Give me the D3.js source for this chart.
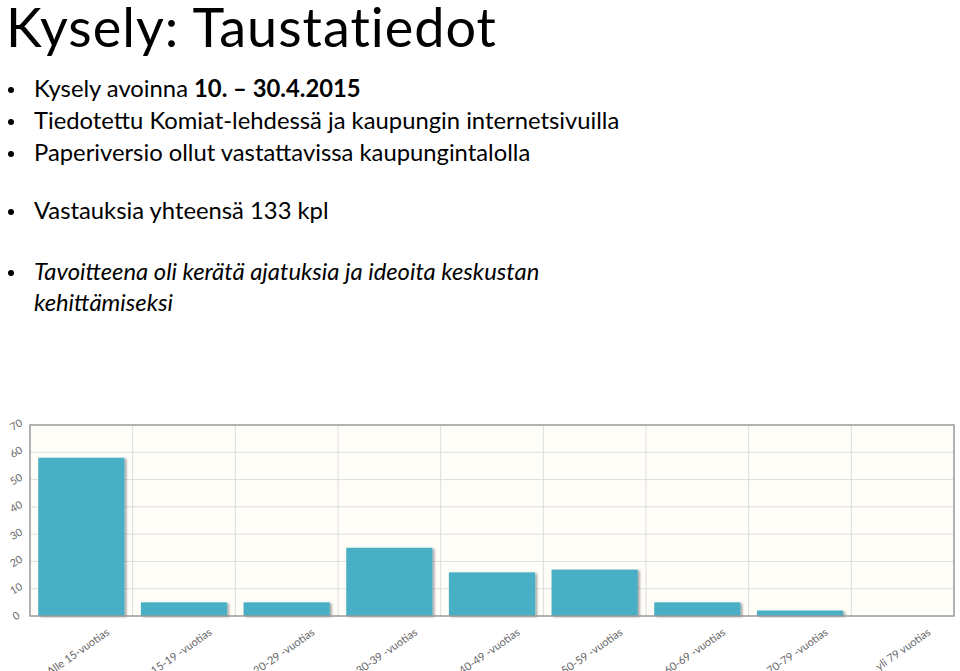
<!DOCTYPE html>
<html><head><meta charset="utf-8">
<script src="https://cdn.jsdelivr.net/npm/d3@7"></script>
<style>body{margin:0;background:#fff;}svg{display:block;}</style>
</head><body>
<script>
const categories=["Alle 15-vuotias","15-19 -vuotias","20-29 -vuotias","30-39 -vuotias","40-49 -vuotias","50-59 -vuotias","60-69 -vuotias","70-79 -vuotias","yli 79 vuotias"];
const values=[58,5,5,25,16,17,5,2,0];
const yTicks=[0,10,20,30,40,50,60,70];

const svg=d3.select("body").append("svg").attr("width",960).attr("height",671);
const F="Lato, 'Open Sans', sans-serif";
svg.append("text").attr("x",6).attr("y",47).attr("font-family",F).attr("font-size",54).attr("letter-spacing",1).attr("fill","#000").text("Kysely: Taustatiedot");
const bullets=[
 {y:97,parts:[["Kysely avoinna ",""],["10. – 30.4.2015","bold"]]},
 {y:129,parts:[["Tiedotettu Komiat-lehdessä ja kaupungin internetsivuilla",""]]},
 {y:161,parts:[["Paperiversio ollut vastattavissa kaupungintalolla",""]]},
 {y:219,parts:[["Vastauksia yhteensä 133 kpl",""]]},
 {y:280,parts:[["Tavoitteena oli kerätä ajatuksia ja ideoita keskustan","italic"]]},
];
bullets.forEach(b=>{
 svg.append("circle").attr("cx",11).attr("cy",b.y-7).attr("r",3).attr("fill","#000");
 const t=svg.append("text").attr("x",34).attr("y",b.y).attr("font-family",F).attr("font-size",23.8).attr("fill","#000");
 b.parts.forEach(p=>{const s=t.append("tspan").text(p[0]);if(p[1]==="bold")s.attr("font-weight","bold");if(p[1]==="italic")s.attr("font-style","italic");});
});
svg.append("text").attr("x",34).attr("y",311).attr("font-family",F).attr("font-size",23.8).attr("font-style","italic").text("kehittämiseksi");

const L=30,R=954,T=425,B=616;
const x=d3.scaleBand().domain(categories).range([L,R]).paddingInner(0.16).paddingOuter(0.08);
const xg=d3.scaleBand().domain(categories).range([L,R]);
const y=d3.scaleLinear().domain([0,70]).range([B,T]);
const g=svg.append("g");
g.append("rect").attr("x",L).attr("y",T).attr("width",R-L).attr("height",B-T).attr("fill","#fffdf8");
g.selectAll(".hg").data(yTicks.slice(1,-1)).join("line").attr("x1",L).attr("x2",R).attr("y1",d=>y(d)).attr("y2",d=>y(d)).attr("stroke","#ddd").attr("stroke-width",1);
g.selectAll(".vg").data(categories.slice(1)).join("line").attr("x1",d=>xg(d)).attr("x2",d=>xg(d)).attr("y1",T).attr("y2",B).attr("stroke","#ddd");
const defs=svg.append("defs");
const f=defs.append("filter").attr("id","sh").attr("x","-10%").attr("y","-10%").attr("width","130%").attr("height","130%");
f.append("feDropShadow").attr("dx",2).attr("dy",1).attr("stdDeviation",1.2).attr("flood-color","#000").attr("flood-opacity",0.35);
g.selectAll(".bar").data(values).join("rect").attr("x",(d,i)=>x(categories[i])).attr("width",x.bandwidth())
 .attr("y",d=>y(d)).attr("height",d=>B-y(d)).attr("fill","#4aafc4").attr("filter",d=>d>0?"url(#sh)":null);
g.append("rect").attr("x",L).attr("y",T).attr("width",R-L).attr("height",B-T).attr("fill","none").attr("stroke","#999").attr("stroke-width",1.5);
const ya=svg.append("g");
ya.selectAll("text").data(yTicks).join("text").attr("transform",d=>`translate(18,${y(d)+3}) rotate(-30)`).attr("text-anchor","middle")
 .attr("font-family",F).attr("font-size",10.5).attr("fill","#666").text(d=>d);
const xa=svg.append("g");
xa.selectAll("text").data(categories).join("text").attr("transform",d=>`translate(${xg(d)+xg.bandwidth()*0.78},${B+18}) rotate(-35)`).attr("text-anchor","end")
 .attr("font-family",F).attr("font-size",11).attr("fill","#666").text(d=>d);
</script>
</body></html>
